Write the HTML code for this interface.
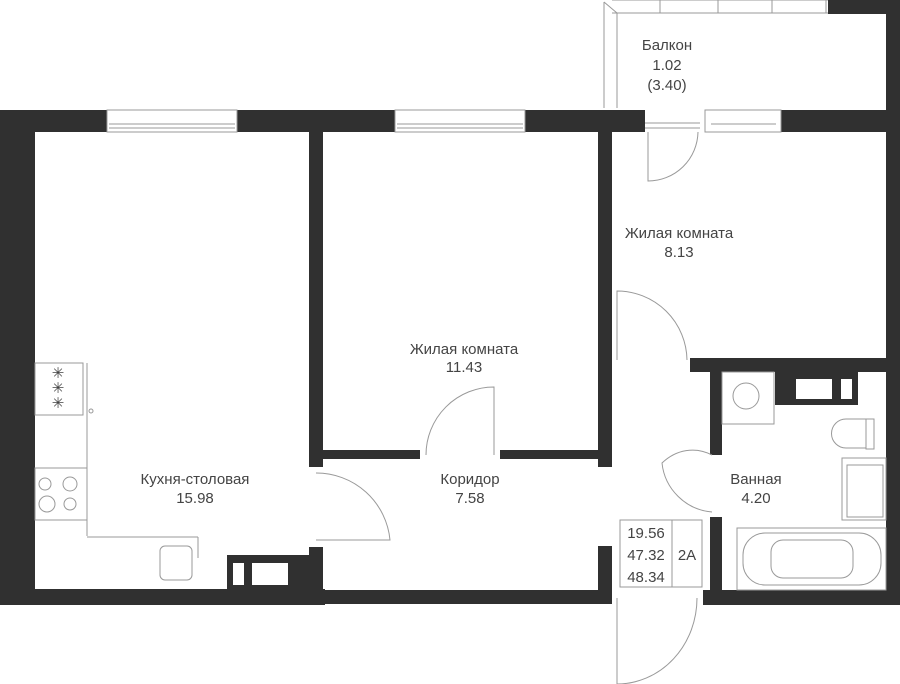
<!DOCTYPE html>
<html><head><meta charset="utf-8"><style>
html,body{margin:0;padding:0;background:#fff;}
svg{display:block}
text{font-family:"Liberation Sans",sans-serif;fill:#444;font-size:15px;text-anchor:middle}
</style></head><body>
<svg width="900" height="684" viewBox="0 0 900 684" xmlns="http://www.w3.org/2000/svg">
<g fill="#303030">
<rect x="0" y="110" width="107" height="22"/>
<rect x="237" y="110" width="158" height="22"/>
<rect x="525" y="110" width="120" height="22"/>
<rect x="781" y="110" width="119" height="22"/>
<rect x="0" y="110" width="35" height="495"/>
<rect x="0" y="589" width="325" height="16"/>
<rect x="309" y="590" width="303" height="14"/>
<rect x="227" y="555" width="96" height="50"/>
<rect x="309" y="547" width="14" height="57"/>
<rect x="309" y="132" width="14" height="335"/>
<rect x="323" y="450" width="97" height="9"/>
<rect x="500" y="450" width="98" height="9"/>
<rect x="598" y="110" width="14" height="357"/>
<rect x="598" y="546" width="14" height="58"/>
<rect x="886" y="0" width="14" height="605"/>
<rect x="828" y="0" width="72" height="14"/>
<rect x="690" y="358" width="198" height="14"/>
<rect x="710" y="372" width="12" height="83"/>
<rect x="710" y="517" width="12" height="80"/>
<rect x="703" y="590" width="197" height="15"/>
<rect x="775" y="372" width="83" height="33"/>
</g>
<g fill="#fff">
<rect x="796" y="379" width="36" height="20"/><rect x="841" y="379" width="11" height="20"/>
<rect x="233" y="563" width="11" height="22"/><rect x="252" y="563" width="36" height="22"/>
</g>
<g fill="none" stroke="#999" stroke-width="1">
<rect x="107" y="110" width="130" height="22"/><line x1="109" y1="124" x2="235" y2="124"/><line x1="109" y1="128" x2="235" y2="128"/>
<rect x="395" y="110" width="130" height="22"/><line x1="397" y1="124" x2="523" y2="124"/><line x1="397" y1="128" x2="523" y2="128"/>
<rect x="705" y="110" width="76" height="22"/><line x1="711" y1="124" x2="776" y2="124"/>
<line x1="645" y1="123" x2="700" y2="123"/><line x1="645" y1="128" x2="700" y2="128"/>
<line x1="612" y1="13" x2="828" y2="13"/><line x1="617" y1="13" x2="617" y2="108"/>
<line x1="604" y1="2" x2="604" y2="108"/><line x1="604" y1="2" x2="617" y2="13"/>
<line x1="660" y1="0" x2="660" y2="13"/><line x1="718" y1="0" x2="718" y2="13"/><line x1="772" y1="0" x2="772" y2="13"/><line x1="826" y1="0" x2="826" y2="13"/>
<line x1="612" y1="0" x2="828" y2="0"/>
<path d="M648 132 V181 A50 50 0 0 0 698 132"/>
<path d="M617 360 V291 A70 70 0 0 1 687 360"/>
<path d="M426 455 A68 68 0 0 1 494 387 V455"/>
<path d="M316 473 A74 74 0 0 1 390 540 H316"/>
<path d="M712 455 A50 62 0 0 0 662 463 A55 55 0 0 0 712 512"/>
<path d="M617 598 V684 A80 86 0 0 0 697 598"/>
<rect x="35" y="363" width="48" height="52"/><line x1="87" y1="363" x2="87" y2="536"/>
<circle cx="91" cy="411" r="2"/>
<rect x="35" y="468" width="52" height="52"/>
<circle cx="45" cy="484" r="6"/><circle cx="70" cy="484" r="7"/><circle cx="47" cy="504" r="8"/><circle cx="70" cy="504" r="6"/>
<line x1="87" y1="537" x2="198" y2="537"/><line x1="198" y1="537" x2="198" y2="558"/>
<rect x="160" y="546" width="32" height="34" rx="5"/>
<rect x="722" y="372" width="52" height="52"/><circle cx="746" cy="396" r="13"/>
<path d="M866 419 H846 A14 14 0 0 0 846 448 H866 Z"/><rect x="866" y="419" width="8" height="30"/>
<rect x="842" y="458" width="44" height="62"/><rect x="847" y="465" width="36" height="52"/>
<rect x="737" y="528" width="149" height="62"/>
<rect x="743" y="533" width="138" height="52" rx="22"/>
<rect x="771" y="540" width="82" height="38" rx="12"/>
<rect x="620" y="520" width="82" height="67"/><line x1="672" y1="520" x2="672" y2="587"/>
</g>
<g style="font-size:11px;fill:#888">
<text x="58" y="378">✳</text><text x="58" y="393">✳</text><text x="58" y="408">✳</text>
</g>
<text x="667" y="50">Балкон</text><text x="667" y="70">1.02</text><text x="667" y="90">(3.40)</text>
<text x="679" y="238">Жилая комната</text><text x="679" y="257">8.13</text>
<text x="464" y="354">Жилая комната</text><text x="464" y="372">11.43</text>
<text x="195" y="484">Кухня-столовая</text><text x="195" y="503">15.98</text>
<text x="470" y="484">Коридор</text><text x="470" y="503">7.58</text>
<text x="756" y="484">Ванная</text><text x="756" y="503">4.20</text>
<g style="font-size:17px">
<text x="646" y="538">19.56</text><text x="646" y="560">47.32</text><text x="646" y="582">48.34</text><text x="687" y="560">2A</text>
</g>
</svg>
</body></html>
